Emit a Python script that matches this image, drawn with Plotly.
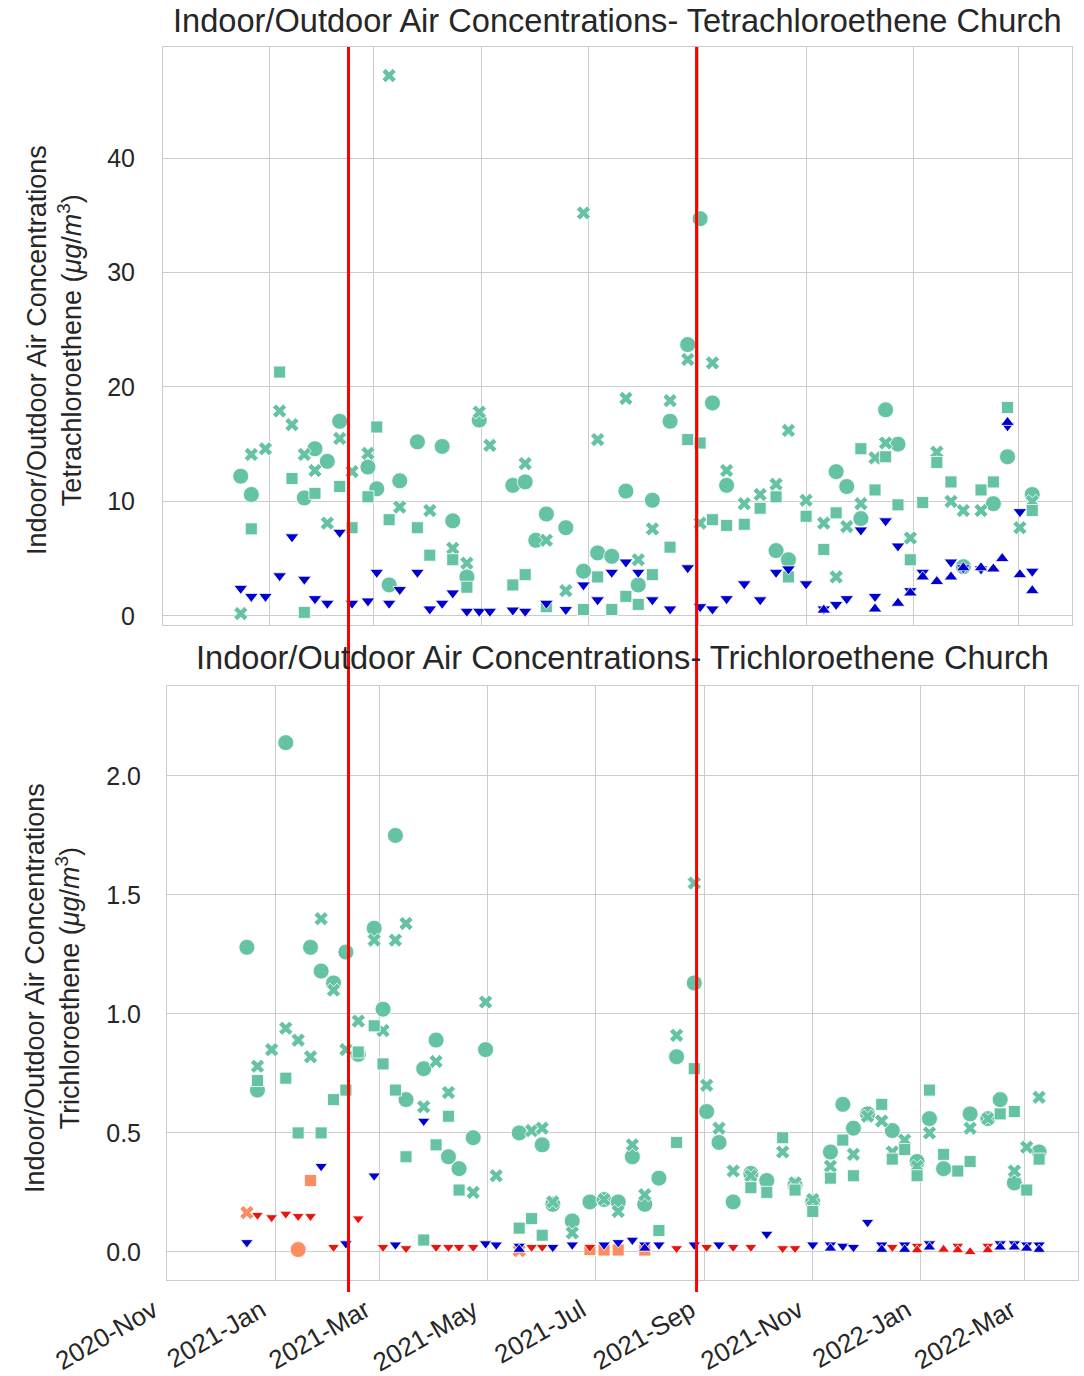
import plotly.graph_objects as go

# ---------------- data ----------------
# Tetrachloroethene (top panel)
pce_circle = [("2020-12-16", 12.2), ("2020-12-22", 10.6), ("2021-01-21", 10.3), ("2021-01-27", 14.6),
              ("2021-02-03", 13.5), ("2021-02-10", 17.0), ("2021-02-26", 13.0), ("2021-03-03", 11.1),
              ("2021-03-10", 2.7), ("2021-03-16", 11.8), ("2021-03-26", 15.2), ("2021-04-09", 14.8),
              ("2021-04-15", 8.3), ("2021-04-23", 3.4), ("2021-04-30", 17.1), ("2021-05-19", 11.4),
              ("2021-05-26", 11.7), ("2021-06-01", 6.6), ("2021-06-07", 8.9), ("2021-06-18", 7.7),
              ("2021-06-28", 3.9), ("2021-07-06", 5.5), ("2021-07-14", 5.2), ("2021-07-22", 10.9),
              ("2021-07-29", 2.7), ("2021-08-06", 10.1), ("2021-08-16", 17.0), ("2021-08-26", 23.7),
              ("2021-09-02", 34.7), ("2021-09-09", 18.6), ("2021-09-17", 11.4), ("2021-10-15", 5.7),
              ("2021-10-22", 4.9), ("2021-11-18", 12.6), ("2021-11-24", 11.3), ("2021-12-02", 8.5),
              ("2021-12-16", 18.0), ("2021-12-23", 15.0), ("2022-01-29", 4.3), ("2022-02-15", 9.8),
              ("2022-02-23", 13.9), ("2022-03-09", 10.6)]
pce_x = [("2020-12-16", 0.2), ("2020-12-22", 14.1), ("2020-12-30", 14.6), ("2021-01-07", 17.9),
         ("2021-01-14", 16.7), ("2021-01-21", 14.1), ("2021-01-27", 12.7), ("2021-02-03", 8.1),
         ("2021-02-10", 15.5), ("2021-02-17", 12.6), ("2021-02-26", 14.2), ("2021-03-10", 47.2),
         ("2021-03-16", 9.5), ("2021-04-02", 9.2), ("2021-04-15", 5.9), ("2021-04-23", 4.6),
         ("2021-04-30", 17.8), ("2021-05-06", 14.9), ("2021-05-26", 13.3), ("2021-06-07", 6.6),
         ("2021-06-18", 2.2), ("2021-06-28", 35.2), ("2021-07-06", 15.4), ("2021-07-22", 19.0),
         ("2021-07-29", 4.9), ("2021-08-06", 7.6), ("2021-08-16", 18.8), ("2021-08-26", 22.4),
         ("2021-09-02", 8.1), ("2021-09-09", 22.1), ("2021-09-17", 12.7), ("2021-09-27", 9.8),
         ("2021-10-06", 10.6), ("2021-10-15", 11.5), ("2021-10-22", 16.2), ("2021-11-01", 10.1),
         ("2021-11-11", 8.1), ("2021-11-18", 3.4), ("2021-11-24", 7.8), ("2021-12-02", 9.8),
         ("2021-12-10", 13.8), ("2021-12-16", 15.1), ("2021-12-30", 6.8), ("2022-01-14", 14.3),
         ("2022-01-22", 10.0), ("2022-01-29", 9.2), ("2022-02-08", 9.2), ("2022-03-02", 7.7),
         ("2022-03-09", 10.0)]
pce_square = [("2020-12-22", 7.6), ("2021-01-07", 21.3), ("2021-01-14", 12.0), ("2021-01-21", 0.3),
              ("2021-01-27", 10.7), ("2021-02-10", 11.3), ("2021-02-17", 7.7), ("2021-02-26", 10.4),
              ("2021-03-03", 16.5), ("2021-03-10", 8.4), ("2021-03-26", 7.7), ("2021-04-02", 5.3),
              ("2021-04-15", 4.9), ("2021-04-23", 2.5), ("2021-05-19", 2.7), ("2021-05-26", 3.6),
              ("2021-06-07", 0.8), ("2021-06-28", 0.55), ("2021-07-06", 3.4), ("2021-07-14", 0.55),
              ("2021-07-22", 1.7), ("2021-07-29", 1.0), ("2021-08-06", 3.6), ("2021-08-16", 6.0),
              ("2021-08-26", 15.4), ("2021-09-02", 15.1), ("2021-09-09", 8.4), ("2021-09-17", 7.9),
              ("2021-09-27", 8.0), ("2021-10-06", 9.4), ("2021-10-15", 10.4), ("2021-10-22", 3.4),
              ("2021-11-01", 8.7), ("2021-11-11", 5.8), ("2021-11-18", 9.0), ("2021-12-02", 14.6),
              ("2021-12-10", 11.0), ("2021-12-16", 13.9), ("2021-12-23", 9.7), ("2021-12-30", 4.9),
              ("2022-01-06", 9.9), ("2022-01-14", 13.4), ("2022-01-22", 11.7), ("2022-02-08", 11.0),
              ("2022-02-15", 11.7), ("2022-02-23", 18.2), ("2022-03-09", 9.2)]
pce_out_down = [("2020-12-16", 2.4), ("2020-12-22", 1.7), ("2020-12-30", 1.7), ("2021-01-07", 3.5),
                ("2021-01-14", 6.9), ("2021-01-21", 3.2), ("2021-01-27", 1.5), ("2021-02-03", 1.1),
                ("2021-02-10", 7.3), ("2021-02-17", 1.1), ("2021-02-26", 1.3), ("2021-03-03", 3.8),
                ("2021-03-10", 1.1), ("2021-03-16", 2.3), ("2021-03-26", 3.8), ("2021-04-02", 0.6),
                ("2021-04-09", 1.1), ("2021-04-15", 2.0), ("2021-04-23", 0.4), ("2021-04-30", 0.4),
                ("2021-05-06", 0.4), ("2021-05-19", 0.5), ("2021-05-26", 0.4), ("2021-06-07", 1.1),
                ("2021-06-18", 0.55), ("2021-06-28", 2.7), ("2021-07-06", 1.4), ("2021-07-14", 3.8),
                ("2021-07-22", 4.7), ("2021-07-29", 3.8), ("2021-08-06", 1.4), ("2021-08-16", 0.6),
                ("2021-08-26", 4.2), ("2021-09-02", 0.8), ("2021-09-09", 0.6), ("2021-09-17", 1.5),
                ("2021-09-27", 2.8), ("2021-10-06", 1.4), ("2021-10-15", 3.8), ("2021-10-22", 4.1),
                ("2021-11-01", 2.8), ("2021-11-11", 0.6), ("2021-11-18", 1.0), ("2021-11-24", 1.5),
                ("2021-12-02", 7.5), ("2021-12-10", 1.7), ("2021-12-16", 8.3), ("2021-12-23", 6.1),
                ("2021-12-30", 2.2), ("2022-01-06", 3.8), ("2022-01-22", 4.7), ("2022-01-29", 4.2),
                ("2022-02-08", 4.1), ("2022-02-23", 16.6), ("2022-03-02", 9.1), ("2022-03-09", 3.9)]
pce_out_up = [("2021-11-11", 0.5), ("2021-12-10", 0.6), ("2021-12-23", 1.1), ("2021-12-30", 2.0),
              ("2022-01-06", 3.4), ("2022-01-14", 3.0), ("2022-01-22", 3.4), ("2022-01-29", 4.2),
              ("2022-02-08", 4.2), ("2022-02-15", 4.1), ("2022-02-20", 5.0), ("2022-02-23", 16.9),
              ("2022-03-02", 3.6), ("2022-03-09", 2.2)]

# Trichloroethene (bottom panel)
tce_circle = [("2020-12-16", 1.28), ("2020-12-22", 0.68), ("2021-01-07", 2.14), ("2021-01-21", 1.28),
              ("2021-01-27", 1.18), ("2021-02-03", 1.13), ("2021-02-10", 1.26), ("2021-02-17", 0.83),
              ("2021-02-26", 1.36), ("2021-03-03", 1.02), ("2021-03-10", 1.75), ("2021-03-16", 0.64),
              ("2021-03-26", 0.77), ("2021-04-02", 0.89), ("2021-04-09", 0.40), ("2021-04-15", 0.35),
              ("2021-04-23", 0.48), ("2021-04-30", 0.85), ("2021-05-19", 0.50), ("2021-06-01", 0.45),
              ("2021-06-07", 0.20), ("2021-06-18", 0.13), ("2021-06-28", 0.21), ("2021-07-06", 0.22),
              ("2021-07-14", 0.21), ("2021-07-22", 0.40), ("2021-07-29", 0.20), ("2021-08-06", 0.31),
              ("2021-08-16", 0.82), ("2021-08-26", 1.13), ("2021-09-02", 0.59), ("2021-09-09", 0.46),
              ("2021-09-17", 0.21), ("2021-09-27", 0.33), ("2021-10-06", 0.30), ("2021-10-22", 0.28),
              ("2021-11-01", 0.21), ("2021-11-11", 0.42), ("2021-11-18", 0.62), ("2021-11-24", 0.52),
              ("2021-12-02", 0.58), ("2021-12-16", 0.51), ("2021-12-30", 0.38), ("2022-01-06", 0.56),
              ("2022-01-14", 0.35), ("2022-01-29", 0.58), ("2022-02-08", 0.56), ("2022-02-15", 0.64),
              ("2022-02-23", 0.29), ("2022-03-09", 0.42)]
tce_x = [("2020-12-22", 0.78), ("2020-12-30", 0.85), ("2021-01-07", 0.94), ("2021-01-14", 0.89),
         ("2021-01-21", 0.82), ("2021-01-27", 1.40), ("2021-02-03", 1.10), ("2021-02-10", 0.85),
         ("2021-02-17", 0.97), ("2021-02-26", 1.31), ("2021-03-03", 0.93), ("2021-03-10", 1.31),
         ("2021-03-16", 1.38), ("2021-03-26", 0.61), ("2021-04-02", 0.80), ("2021-04-09", 0.67),
         ("2021-04-23", 0.25), ("2021-04-30", 1.05), ("2021-05-06", 0.32), ("2021-05-26", 0.51),
         ("2021-06-01", 0.52), ("2021-06-07", 0.21), ("2021-06-18", 0.08), ("2021-07-06", 0.22),
         ("2021-07-14", 0.17), ("2021-07-22", 0.45), ("2021-07-29", 0.24), ("2021-08-16", 0.91),
         ("2021-08-26", 1.55), ("2021-09-02", 0.70), ("2021-09-09", 0.52), ("2021-09-17", 0.34),
         ("2021-09-27", 0.32), ("2021-10-15", 0.42), ("2021-10-22", 0.29), ("2021-11-01", 0.22),
         ("2021-11-11", 0.36), ("2021-11-24", 0.41), ("2021-12-02", 0.57), ("2021-12-10", 0.55),
         ("2021-12-16", 0.42), ("2021-12-23", 0.47), ("2021-12-30", 0.36), ("2022-01-06", 0.50),
         ("2022-01-29", 0.52), ("2022-02-08", 0.56), ("2022-02-23", 0.34), ("2022-03-02", 0.44),
         ("2022-03-09", 0.65)]
tce_square = [("2020-12-22", 0.72), ("2021-01-07", 0.73), ("2021-01-14", 0.50), ("2021-01-27", 0.50),
              ("2021-02-03", 0.64), ("2021-02-10", 0.68), ("2021-02-17", 0.84), ("2021-02-26", 0.95),
              ("2021-03-03", 0.79), ("2021-03-10", 0.68), ("2021-03-16", 0.40), ("2021-03-26", 0.05),
              ("2021-04-02", 0.45), ("2021-04-09", 0.57), ("2021-04-15", 0.26), ("2021-05-19", 0.10),
              ("2021-05-26", 0.14), ("2021-06-01", 0.07), ("2021-08-06", 0.09), ("2021-08-16", 0.46),
              ("2021-08-26", 0.77), ("2021-09-27", 0.27), ("2021-10-06", 0.25), ("2021-10-15", 0.48),
              ("2021-10-22", 0.26), ("2021-11-01", 0.17), ("2021-11-11", 0.31), ("2021-11-18", 0.47),
              ("2021-11-24", 0.32), ("2021-12-10", 0.62), ("2021-12-16", 0.39), ("2021-12-23", 0.43),
              ("2021-12-30", 0.32), ("2022-01-06", 0.68), ("2022-01-14", 0.41), ("2022-01-22", 0.34),
              ("2022-01-29", 0.38), ("2022-02-15", 0.58), ("2022-02-23", 0.59), ("2022-03-02", 0.26),
              ("2022-03-09", 0.39)]
tce_out_down = [("2020-12-16", 0.04), ("2021-01-27", 0.36), ("2021-02-10", 0.035), ("2021-02-26", 0.32),
                ("2021-03-10", 0.03), ("2021-03-26", 0.55), ("2021-04-30", 0.035), ("2021-05-06", 0.03),
                ("2021-05-19", 0.025), ("2021-06-07", 0.02), ("2021-06-18", 0.03), ("2021-07-06", 0.03),
                ("2021-07-14", 0.04), ("2021-07-22", 0.05), ("2021-07-29", 0.03), ("2021-08-06", 0.03),
                ("2021-08-26", 0.03), ("2021-09-09", 0.03), ("2021-10-06", 0.075), ("2021-11-01", 0.03),
                ("2021-11-11", 0.03), ("2021-11-18", 0.025), ("2021-11-24", 0.02), ("2021-12-02", 0.125),
                ("2021-12-10", 0.03), ("2021-12-23", 0.03), ("2022-01-06", 0.035), ("2022-02-15", 0.035),
                ("2022-02-23", 0.035), ("2022-03-02", 0.03), ("2022-03-09", 0.03)]
tce_out_up = [("2021-05-19", 0.01), ("2021-07-29", 0.015), ("2021-11-11", 0.015), ("2021-12-10", 0.01),
              ("2021-12-23", 0.01), ("2022-01-06", 0.02), ("2022-02-15", 0.02), ("2022-02-23", 0.02),
              ("2022-03-02", 0.015), ("2022-03-09", 0.01)]
tce_nd_down = [("2020-12-22", 0.155), ("2020-12-30", 0.145), ("2021-01-07", 0.16), ("2021-01-14", 0.15),
               ("2021-01-21", 0.15), ("2021-02-03", 0.02), ("2021-02-17", 0.14), ("2021-03-03", 0.02),
               ("2021-03-16", 0.015), ("2021-04-02", 0.02), ("2021-04-09", 0.02), ("2021-04-15", 0.02),
               ("2021-04-23", 0.02), ("2021-05-26", 0.02), ("2021-06-01", 0.02), ("2021-06-28", 0.02),
               ("2021-08-16", 0.015), ("2021-09-02", 0.02), ("2021-09-17", 0.02), ("2021-09-27", 0.02),
               ("2021-10-15", 0.015), ("2021-10-22", 0.015), ("2021-12-16", 0.02), ("2021-12-30", 0.025),
               ("2022-01-22", 0.025), ("2022-02-08", 0.025)]
tce_nd_up = [("2021-12-30", 0.008), ("2022-01-14", 0.01), ("2022-01-22", 0.008), ("2022-01-29", 0.0),
             ("2022-02-08", 0.008)]
tce_or_x = [("2020-12-16", 0.165), ("2021-05-19", 0.005)]
tce_or_circle = [("2021-01-14", 0.01)]
tce_or_square = [("2021-01-21", 0.30), ("2021-06-28", 0.01), ("2021-07-06", 0.008), ("2021-07-14", 0.008),
                 ("2021-07-29", 0.008)]

event_dates = ["2021-02-15", "2021-08-31"]

top_title = "Indoor/Outdoor Air Concentrations- Tetrachloroethene Church"
bot_title = "Indoor/Outdoor Air Concentrations- Trichloroethene Church"
top_ylabel = "Indoor/Outdoor Air Concentrations<br>Tetrachloroethene (<i>μg</i>/<i>m</i><sup>3</sup>)"
bot_ylabel = "Indoor/Outdoor Air Concentrations<br>Trichloroethene (<i>μg</i>/<i>m</i><sup>3</sup>)"

# ---------------- styling ----------------
GREEN = "#66c2a5"
ORANGE = "#fc8d62"
BLUE = "#0000cc"
RED = "#e8140e"
TXT = "#262626"
GRID = "#cccccc"
FONT = "Liberation Sans, Arial, sans-serif"
W, H = 1084, 1376

fig = go.Figure()


def add(data, xa, ya, symbol, color, size):
    xs = [d for d, _ in data]
    ys = [v for _, v in data]
    fig.add_trace(go.Scatter(
        x=xs, y=ys, mode="markers", xaxis=xa, yaxis=ya, showlegend=False,
        marker=dict(symbol=symbol, color=color, size=size,
                    line=dict(color="white", width=0.8))))


# top panel
add(pce_circle, "x", "y", "circle", GREEN, 16)
add(pce_x, "x", "y", "x", GREEN, 12.5)
add(pce_square, "x", "y", "square", GREEN, 12)
add(pce_out_down, "x", "y", "triangle-down", BLUE, 12)
add(pce_out_up, "x", "y", "triangle-up", BLUE, 12)

# bottom panel
add(tce_circle, "x2", "y2", "circle", GREEN, 16)
add(tce_x, "x2", "y2", "x", GREEN, 12.5)
add(tce_square, "x2", "y2", "square", GREEN, 12)
add(tce_or_circle, "x2", "y2", "circle", ORANGE, 16)
add(tce_or_x, "x2", "y2", "x", ORANGE, 12.5)
add(tce_or_square, "x2", "y2", "square", ORANGE, 12)
add(tce_out_down, "x2", "y2", "triangle-down", BLUE, 11)
add(tce_out_up, "x2", "y2", "triangle-up", BLUE, 11)
add(tce_nd_down, "x2", "y2", "triangle-down", RED, 10.5)
add(tce_nd_up, "x2", "y2", "triangle-up", RED, 10.5)


def px_x(p):
    return p / W


def px_y(p):
    return 1 - p / H


axis_common = dict(showgrid=True, gridcolor=GRID, gridwidth=1, showline=True, linecolor=GRID,
                   linewidth=1, mirror=True, zeroline=False, automargin=False)
tick_font = dict(family=FONT, size=25, color=TXT)

fig.update_layout(
    width=W, height=H, margin=dict(l=0, r=0, t=0, b=0, autoexpand=False),
    paper_bgcolor="white", plot_bgcolor="white",
    font=dict(family=FONT, color=TXT),
    xaxis=dict(domain=[px_x(163), px_x(1072)], anchor="y", type="date",
               range=["2020-11-02", "2022-03-31 12:00"],
               tickmode="linear", tick0="2020-11-01", dtick="M2",
               showticklabels=False, tickfont=tick_font, **axis_common),
    yaxis=dict(domain=[px_y(625), px_y(47)], anchor="x",
               range=[-0.8, 49.7], tickmode="array", tickvals=[0, 10, 20, 30, 40],
               ticks="outside", ticklen=22, tickcolor="rgba(0,0,0,0)",
               tickfont=tick_font, **axis_common),
    xaxis2=dict(domain=[px_x(167), px_x(1078)], anchor="y2", type="date",
                range=["2020-10-31 20:00", "2022-03-31"],
                tickmode="linear", tick0="2020-11-01", dtick="M2", tickformat="%Y-%b",
                tickangle=-30, ticks="outside", ticklen=4, tickcolor="rgba(0,0,0,0)",
                ticklabelshift=-14, tickfont=dict(family=FONT, size=26, color=TXT),
                **axis_common),
    yaxis2=dict(domain=[px_y(1280), px_y(686)], anchor="x2",
                range=[-0.118, 2.378], tickmode="array", tickvals=[0, 0.5, 1.0, 1.5, 2.0],
                tickformat=".1f", ticks="outside", ticklen=20, tickcolor="rgba(0,0,0,0)",
                tickfont=tick_font, **axis_common),
)

annotations = [
    dict(text=top_title, x=px_x(617), y=px_y(21), xref="paper", yref="paper",
         showarrow=False, xanchor="center", yanchor="middle",
         font=dict(family=FONT, size=32.6, color=TXT)),
    dict(text=bot_title, x=px_x(622), y=px_y(657), xref="paper", yref="paper",
         showarrow=False, xanchor="center", yanchor="middle",
         font=dict(family=FONT, size=32.6, color=TXT)),
    dict(text=top_ylabel, x=px_x(54), y=px_y(350), xref="paper", yref="paper",
         showarrow=False, xanchor="center", yanchor="middle", textangle=-90,
         font=dict(family=FONT, size=27, color=TXT)),
    dict(text=bot_ylabel, x=px_x(52), y=px_y(988), xref="paper", yref="paper",
         showarrow=False, xanchor="center", yanchor="middle", textangle=-90,
         font=dict(family=FONT, size=27, color=TXT)),
]
fig.update_layout(annotations=annotations)

shapes = []
for d in event_dates:
    shapes.append(dict(type="line", xref="x", yref="paper", x0=d, x1=d,
                       y0=px_y(1292), y1=px_y(47), line=dict(color="red", width=3),
                       layer="above"))
fig.update_layout(shapes=shapes)

fig.write_html("out.html")
